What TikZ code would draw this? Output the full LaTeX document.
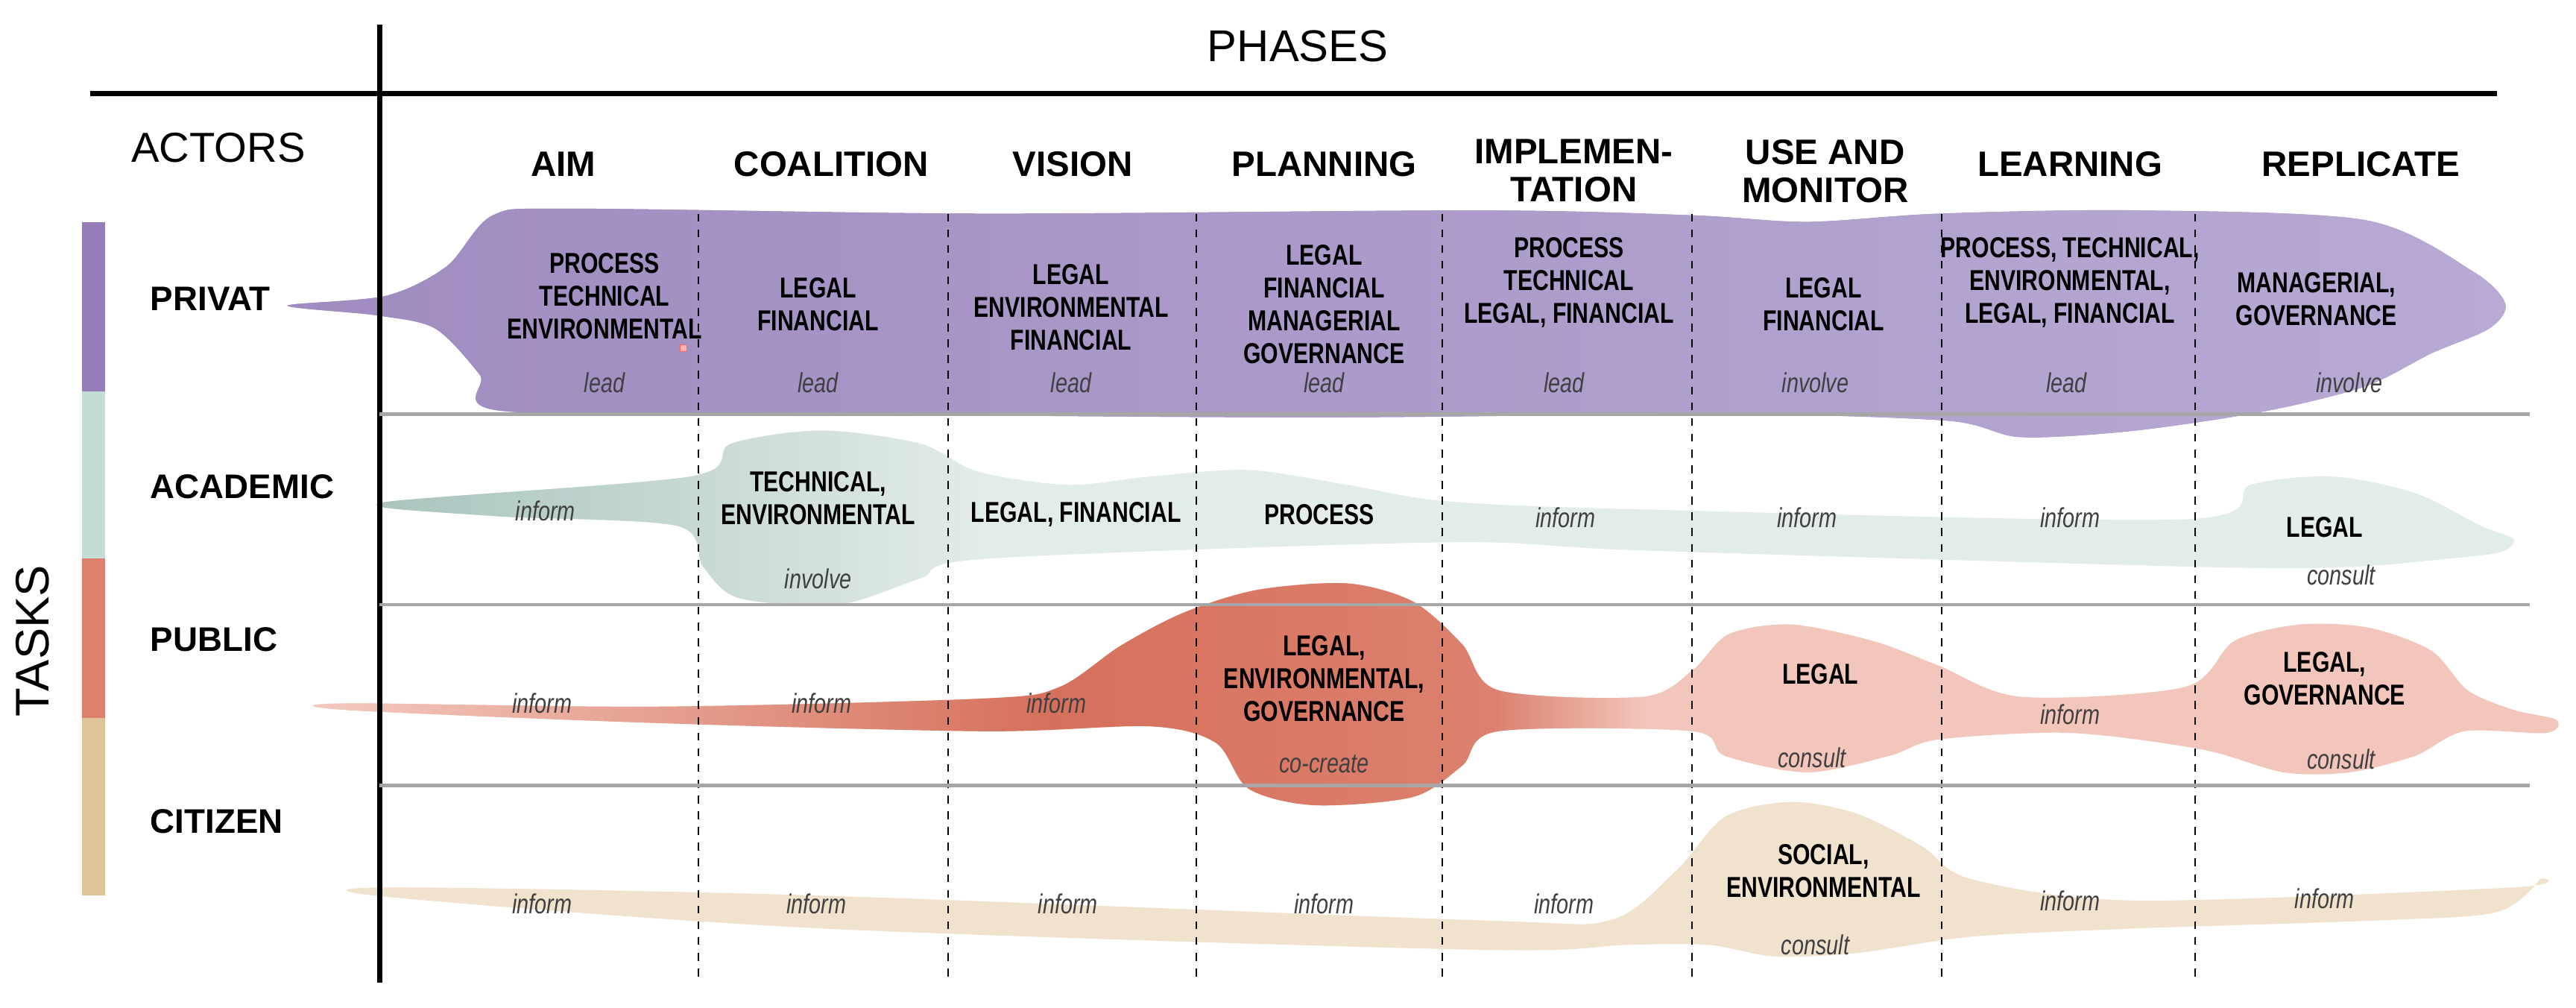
\documentclass[tikz,border=0pt]{standalone}
\usepackage{fontspec}
\setmainfont{Liberation Sans}
\newfontfamily\cond[FakeStretch=0.78]{Liberation Sans}
\usetikzlibrary{positioning}
\definecolor{privatC}{RGB}{160,140,192}
\definecolor{privatL}{RGB}{184,170,212}
\definecolor{acadC}{RGB}{170,196,190}
\definecolor{acadL}{RGB}{226,236,234}
\definecolor{publC}{RGB}{214,112,92}
\definecolor{publL}{RGB}{242,198,186}
\definecolor{citC}{RGB}{240,226,205}
\definecolor{barP}{RGB}{150,125,185}
\definecolor{barA}{RGB}{196,220,214}
\definecolor{barU}{RGB}{222,128,110}
\definecolor{barC}{RGB}{222,196,150}

\tikzstyle{matrix_style}=[x=0.02204cm,y=-0.02204cm,
  phase/.style={font=\fontsize{13.5}{14.5}\selectfont\bfseries,align=center},
  actor/.style={font=\fontsize{13}{14}\selectfont\bfseries,anchor=west},
  task/.style={font=\cond\fontsize{11}{12.5}\selectfont\bfseries,align=center},
  role/.style={font=\cond\fontsize{10.5}{12}\selectfont\itshape,text=black!75},
  divider/.style={dashed,line width=0.6pt},
  rowline/.style={line width=1.2pt,draw=black!35},
  axis/.style={line width=2pt}]

\begin{document}
\begin{tikzpicture}[matrix_style]
  \useasboundingbox (0,0) rectangle (1568,613);

  % blobs
  \fill[privatC,left color=privatC,right color=privatL]
    plot[smooth cycle,tension=0.5] coordinates {(175,186) (235,180) (272,162) (300,131) (350,127) (600,130) (900,128) (1030,131) (1100,135) (1180,130) (1300,128) (1440,134) (1505,165) (1525,185) (1515,200) (1480,215) (1440,235) (1380,250) (1300,262) (1230,266) (1185,256) (1050,252) (800,254) (500,252) (305,250) (292,228) (265,200) (230,192)};
  \fill[acadL]
    plot[smooth cycle,tension=0.5] coordinates {(231,306) (420,290) (445,270) (500,262) (560,270) (595,287) (650,295) (700,290) (760,286) (820,295) (880,305) (1000,310) (1330,316) (1370,295) (1420,290) (1470,300) (1510,320) (1530,328) (1522,336) (1490,340) (1430,345) (1340,345) (1000,335) (880,330) (600,340) (560,352) (510,368) (450,364) (428,345) (412,320) (300,314)};
  \begin{scope}
    \clip plot[smooth cycle,tension=0.5] coordinates {(231,306) (420,290) (445,270) (500,262) (560,270) (595,287) (650,295) (700,290) (760,286) (820,295) (880,305) (1000,310) (1330,316) (1370,295) (1420,290) (1470,300) (1510,320) (1530,328) (1522,336) (1490,340) (1430,345) (1340,345) (1000,335) (880,330) (600,340) (560,352) (510,368) (450,364) (428,345) (412,320) (300,314)};
    \shade[left color=acadC,right color=acadL] (231,250) rectangle (600,380);
  \end{scope}
  \fill[publL]
    plot[smooth cycle,tension=0.5] coordinates {(210,428) (400,430) (600,425) (645,418) (682,393) (720,373) (765,359) (820,355) (860,366) (890,392) (912,420) (1000,424) (1030,408) (1052,386) (1090,380) (1140,390) (1180,405) (1230,424) (1330,418) (1360,390) (1400,380) (1442,382) (1480,396) (1502,420) (1530,432) (1556,438) (1550,446) (1500,445) (1470,460) (1430,470) (1390,470) (1340,456) (1260,446) (1180,450) (1150,460) (1100,470) (1050,460) (1030,445) (912,445) (890,466) (860,485) (800,490) (760,480) (740,452) (700,442) (600,445) (400,440) (210,432)};
  \begin{scope}
    \clip (210,340) rectangle (1000,500);
    \clip plot[smooth cycle,tension=0.5] coordinates {(210,428) (400,430) (600,425) (645,418) (682,393) (720,373) (765,359) (820,355) (860,366) (890,392) (912,420) (1000,424) (1030,408) (1052,386) (1090,380) (1140,390) (1180,405) (1230,424) (1330,418) (1360,390) (1400,380) (1442,382) (1480,396) (1502,420) (1530,432) (1556,438) (1550,446) (1500,445) (1470,460) (1430,470) (1390,470) (1340,456) (1260,446) (1180,450) (1150,460) (1100,470) (1050,460) (1030,445) (912,445) (890,466) (860,485) (800,490) (760,480) (740,452) (700,442) (600,445) (400,440) (210,432)};
    \shade[left color=publL,right color=publC] (210,340) rectangle (640,500);
    \shade[left color=publC,right color=publC!80!publL] (640,340) rectangle (910,500);
    \shade[left color=publC!80!publL,right color=publL] (910,340) rectangle (1000,500);
  \end{scope}
  \fill[citC]
    plot[smooth cycle,tension=0.5] coordinates {(238,540) (500,545) (900,560) (980,560) (1020,530) (1050,497) (1090,488) (1130,495) (1170,515) (1200,535) (1300,548) (1530,540) (1546,535) (1520,555) (1450,560) (1300,565) (1200,570) (1130,580) (1080,582) (1040,575) (990,575) (900,578) (500,565) (238,546)};
  \fill[red!30,draw=red!60,line width=0.3pt] (414,210) rectangle (418,214);

  % axes and grid
  \coordinate (vtop) at (231,15);
  \coordinate (vbot) at (231,598);
  \coordinate (hl) at (55,57);
  \coordinate (hr) at (1520,57);
  \draw[axis] (vtop) -- (vbot);
  \draw[axis] (hl) -- (hr);
  \foreach \x in {425,577,728,878,1030,1182,1336}
    \draw[divider] (\x,130) -- (\x,598);
  \foreach \y in {252,368,478}
    \draw[rowline] (231,\y) -- (1540,\y);

  % task bar
  \fill[barP] (50,135) rectangle (64,238);
  \fill[barA] (50,238) rectangle (64,340);
  \fill[barU] (50,340) rectangle (64,437);
  \fill[barC] (50,437) rectangle (64,545);
  \node[rotate=90,font=\fontsize{18}{18}\selectfont] (tasks) at (20,390) {TASKS};

  % headers
  \node[font=\fontsize{17}{18}\selectfont] (phases) at (790,28) {PHASES};
  \node[font=\fontsize{16}{17}\selectfont] (actors) at (133,90) {ACTORS};
  \node[phase] (aim)  at (343,100) {AIM};
  \node[phase] (coal) at (506,100) {COALITION};
  \node[phase] (vis)  at (653,100) {VISION};
  \node[phase] (plan) at (806,100) {PLANNING};
  \node[phase] (impl) at (958,104) {IMPLEMEN-\\TATION};
  \node[phase] (use)  at (1111,104) {USE AND\\MONITOR};
  \node[phase] (learn) at (1260,100) {LEARNING};
  \node[phase] (repl) at (1437,100) {REPLICATE};

  \node[actor] (privat) at (86,182) {PRIVAT};
  \node[actor] (acad) at (86,296) {ACADEMIC};
  \node[actor] (publ) at (86,389) {PUBLIC};
  \node[actor] (cit) at (86,500) {CITIZEN};

  % privat
  \node[task] (p1) at (368,180) {PROCESS\\TECHNICAL\\ENVIRONMENTAL};
  \node[task] (p2) at (498,185) {LEGAL\\FINANCIAL};
  \node[task] (p3) at (652,187) {LEGAL\\ENVIRONMENTAL\\FINANCIAL};
  \node[task] (p4) at (806,185) {LEGAL\\FINANCIAL\\MANAGERIAL\\GOVERNANCE};
  \node[task] (p5) at (955,172) {PROCESS\\TECHNICAL\\LEGAL, FINANCIAL};
  \node[task] (p6) at (1110,185) {LEGAL\\FINANCIAL};
  \node[task] (p7) at (1260,172) {PROCESS, TECHNICAL,\\ENVIRONMENTAL,\\LEGAL, FINANCIAL};
  \node[task] (p8) at (1410,182) {MANAGERIAL,\\GOVERNANCE};
  \foreach \x/\r in {368/lead,498/lead,652/lead,806/lead,952/lead,1105/involve,1258/lead,1430/involve}
    \node[role] at (\x,233) {\r};

  % academic
  \node[role] (a1) at (332,311) {inform};
  \node[task] (a2) at (498,303) {TECHNICAL,\\ENVIRONMENTAL};
  \node[role] (a2r) at (498,352) {involve};
  \node[task] (a3) at (655,313) {LEGAL, FINANCIAL};
  \node[task] (a4) at (803,313) {PROCESS};
  \node[role] (a5) at (953,315) {inform};
  \node[role] (a6) at (1100,315) {inform};
  \node[role] (a7) at (1260,315) {inform};
  \node[task] (a8) at (1415,321) {LEGAL};
  \node[role] (a8r) at (1425,350) {consult};

  % public
  \node[role] (u1) at (330,428) {inform};
  \node[role] (u2) at (500,428) {inform};
  \node[role] (u3) at (643,428) {inform};
  \node[task] (u4) at (806,413) {LEGAL,\\ENVIRONMENTAL,\\GOVERNANCE};
  \node[role] (u4r) at (806,465) {co-create};
  \node[task] (u5) at (1108,410) {LEGAL};
  \node[role] (u5r) at (1103,461) {consult};
  \node[role] (u6) at (1260,435) {inform};
  \node[task] (u7) at (1415,413) {LEGAL,\\GOVERNANCE};
  \node[role] (u7r) at (1425,462) {consult};

  % citizen
  \foreach \x in {330,497,650,806,952}
    \node[role] at (\x,550) {inform};
  \node[task] (c1) at (1110,530) {SOCIAL,\\ENVIRONMENTAL};
  \node[role] (c1r) at (1105,575) {consult};
  \node[role] (c2) at (1260,548) {inform};
  \node[role] (c3) at (1415,547) {inform};

\end{tikzpicture}
\end{document}
